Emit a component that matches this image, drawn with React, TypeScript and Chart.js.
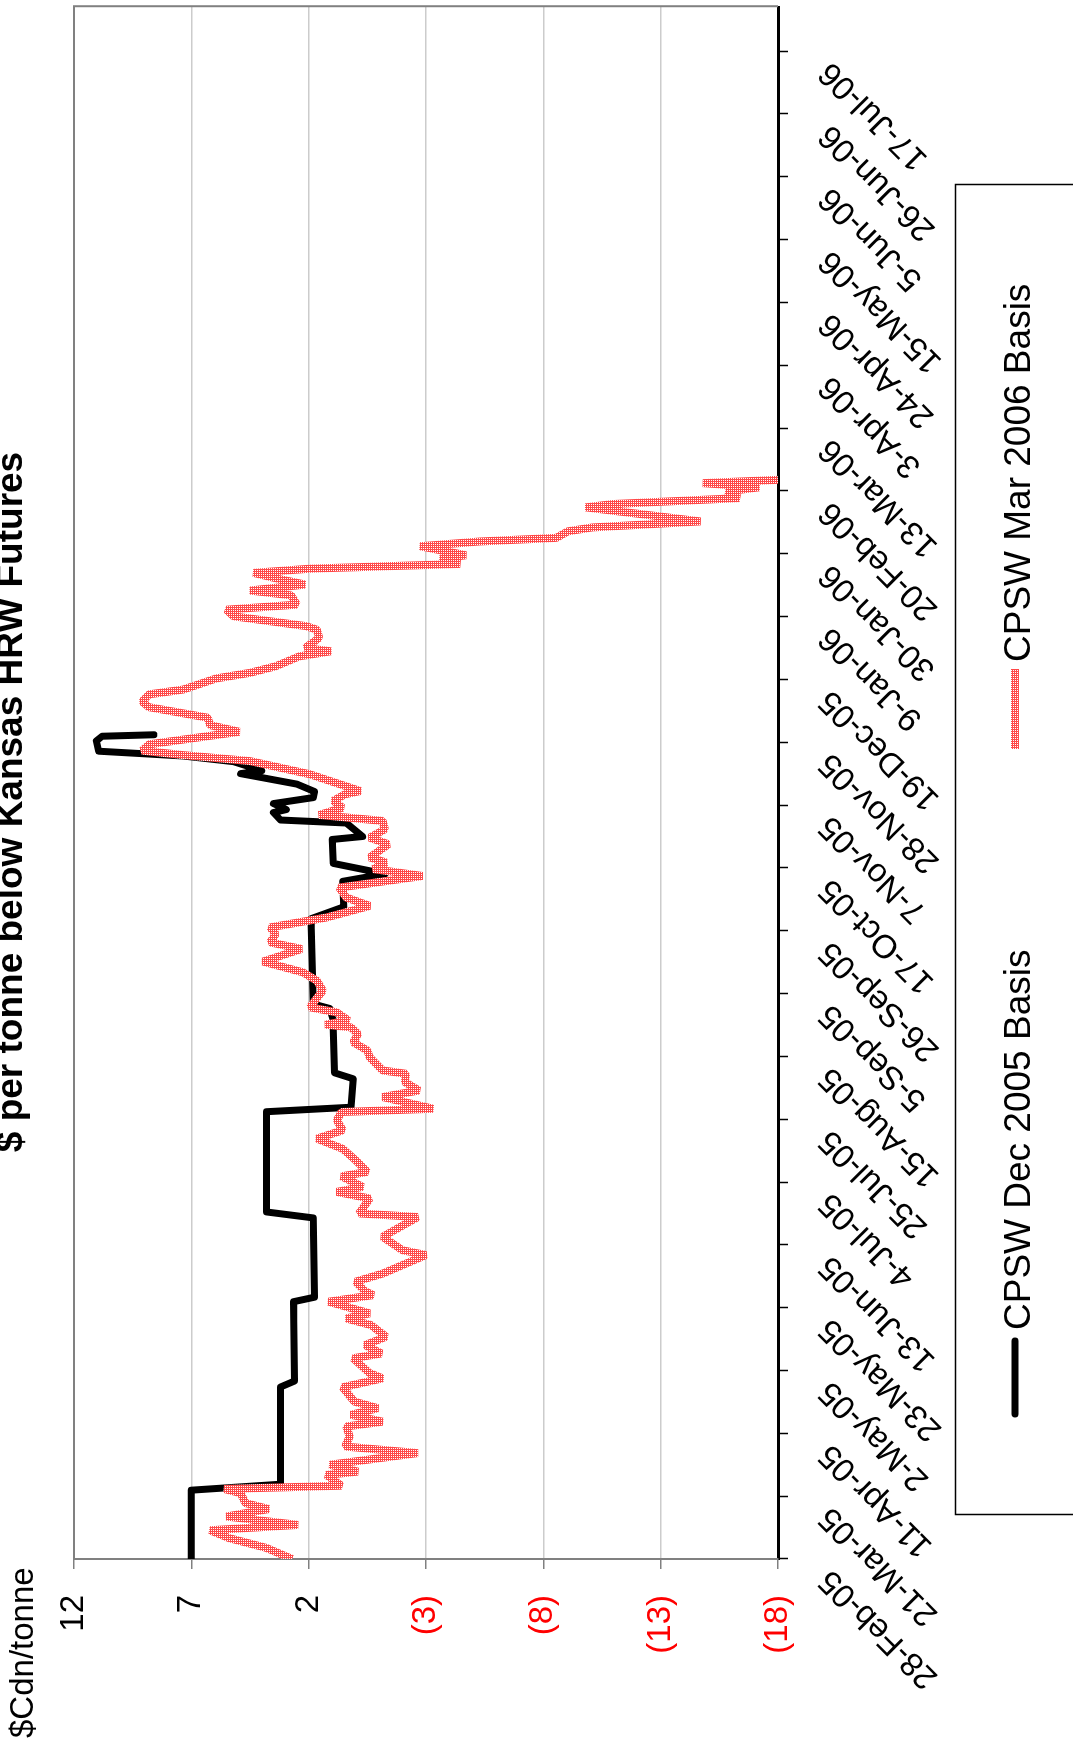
import React, { useEffect, useRef } from "react";
import { Chart, registerables } from "chart.js";

Chart.register(...registerables);

// ---- data (x = days after 28-Feb-05, y = $Cdn/tonne) ----
const START_UTC = Date.UTC(2005, 1, 28);
const MONTHS = ["Jan", "Feb", "Mar", "Apr", "May", "Jun", "Jul", "Aug", "Sep", "Oct", "Nov", "Dec"];

const chartTitle = "$ per tonne below Kansas HRW Futures";
const unitLabel = "$Cdn/tonne";
const seriesLabels = ["CPSW Dec 2005 Basis", "CPSW Mar 2006 Basis"];

const decDays = [0, 23, 25, 57.5, 59.5, 86, 87.5, 114, 116, 149.5, 151, 160.5, 162.5, 177, 180, 184, 185.5, 214, 218, 226.5, 229, 232.5, 240.5, 241.5, 246, 247, 249.5, 250.5, 252.5, 254.5, 256.5, 259, 262.5, 263.5, 266.5, 268.4, 270, 273.4, 275, 275.5];
const decBasis = [7, 7, 3.2, 3.2, 2.6, 2.65, 1.75, 1.8, 3.8, 3.8, 0.2, 0.1, 0.9, 0.95, 0.95, 1.1, 1.8, 1.9, 0.5, 0.55, -1.25, 0.95, 1.0, -0.3, 0.4, 3.2, 3.5, 2.95, 3.5, 1.8, 1.75, 2.5, 4.9, 4.0, 5.2, 7.35, 10.95, 11.05, 10.8, 8.6];

const marDays = [0, 3.7, 7, 9.6, 11.4, 14.2, 16.7, 18.7, 22, 23.4, 24.5, 28.1, 29.2, 31.5, 35.4, 37.6, 40.9, 44.3, 45.9, 48.2, 50.4, 52.6, 57.4, 60.4, 62.1, 67.1, 68.7, 71.5, 74.3, 78.2, 80.4, 82.1, 86, 88.2, 89.5, 92.7, 95.4, 101.6, 103.2, 107.7, 114.3, 115.5, 120.5, 122.7, 124.4, 127.9, 129.4, 133.3, 137.1, 140.5, 143.3, 146.6, 149.4, 150.5, 154.4, 156.6, 159.4, 162.2, 163.3, 167.7, 170, 172.7, 175.5, 177.7, 178.6, 180, 182.7, 184.4, 190, 193.3, 196.1, 199.7, 203.9, 206.1, 208.9, 211.1, 214.4, 218.3, 221.1, 224.4, 228.3, 230.6, 232.8, 234.5, 238.9, 241.1, 243.9, 246.7, 248.7, 251.1, 253.4, 255.6, 256.7, 262.3, 266.7, 268.7, 270.2, 272.3, 276.5, 278.7, 281.2, 284.7, 286.6, 289, 290.6, 294.3, 296.2, 298.4, 301.7, 303.4, 304.5, 307.9, 310.6, 311.8, 315.1, 317.3, 319, 322.1, 323.7, 325.7, 327.7, 329.6, 331, 332.6, 334.3, 335.5, 338.5, 340.1, 341.3, 343.5, 344.8, 346.8, 351.5, 352.6, 354.6, 356.8, 358.2, 359.6, 360.7];
const marBasis = [2.7, 3.8, 5.4, 6.2, 2.45, 5.5, 3.7, 4.7, 4.9, 5.6, 0.6, 1.25, -0.1, 1.1, -2.65, 0.45, 0.25, 0.4, -1.15, 0.2, -0.95, 0.05, 0.55, -1.15, -0.6, 0.1, -1.1, -0.4, -1.3, -0.65, 0.4, -0.6, 1.15, -0.75, -0.4, 0.0, -1.15, -3.0, -2.0, -1.15, -2.65, -0.15, -0.6, 0.8, -0.3, 0.6, -0.5, 0.0, 0.55, 1.65, 0.55, 0.8, 0.6, -3.3, -1.15, -2.7, -2.1, -2.15, -1.15, -0.6, -0.5, 0.1, -0.1, 0.2, 1.3, 0.3, 0.8, 1.95, 1.4, 1.65, 2.25, 3.95, 2.3, 3.65, 3.4, 3.65, 1.25, -0.6, 0.4, 0.7, -2.85, -0.75, -1.3, -0.6, -1.4, -0.6, -1.25, -1.15, 1.55, 0.55, 0.95, 0.45, -0.2, 1.95, 4.5, 7.35, 9.1, 8.8, 4.95, 6.2, 6.3, 8.8, 9.1, 8.8, 7.35, 5.95, 4.5, 3.4, 2.4, 1.05, 2.15, 1.55, 1.65, 2.1, 5.2, 5.5, 2.5, 2.75, 4.5, 2.15, 3.35, 4.35, 1.95, -4.45, -3.6, -4.7, -2.75, -5.3, -8.55, -9.05, -10.1, -14.7, -9.8, -10.95, -16.35, -15.8, -17.2, -14.8, -18.0];

const valueMin = -18;
const valueMax = 12;
const valueStep = 5;
const dayMax = 519;
const dayStep = 21;

const FONT = "'Liberation Sans', Arial, Helvetica, sans-serif";

function fmtDate(d: number): string {
  const dt = new Date(START_UTC + Math.round(d) * 86400000);
  return `${dt.getUTCDate()}-${MONTHS[dt.getUTCMonth()]}-${String(dt.getUTCFullYear()).slice(2)}`;
}
function fmtValue(v: number): string {
  return v < 0 ? `(${-v})` : `${v}`;
}

export default function App() {
  const ref = useRef<HTMLCanvasElement>(null);

  useEffect(() => {
    const canvas = ref.current!;
    const ctx0 = canvas.getContext("2d")!;
    const pc = document.createElement("canvas");
    pc.width = 2;
    pc.height = 2;
    const pctx = pc.getContext("2d")!;
    pctx.fillStyle = "rgb(255,72,72)";
    pctx.fillRect(0, 0, 2, 2);
    pctx.fillStyle = "#ffffff";
    pctx.fillRect(1, 1, 1, 1);
    const pink = ctx0.createPattern(pc, "repeat")!;

    const decor = {
      id: "decor",
      beforeDatasetsDraw(chart: any) {
        const { ctx, chartArea } = chart;
        ctx.save();
        ctx.strokeStyle = "#808080";
        ctx.lineWidth = 2;
        ctx.beginPath();
        ctx.moveTo(chartArea.left, chartArea.top);
        ctx.lineTo(chartArea.right, chartArea.top);
        ctx.lineTo(chartArea.right, chartArea.bottom);
        ctx.stroke();
        ctx.restore();
      },
      afterDraw(chart: any) {
        const { ctx } = chart;
        ctx.save();
        ctx.fillStyle = "#000";
        ctx.textBaseline = "alphabetic";
        ctx.textAlign = "center";
        ctx.font = `bold 37px ${FONT}`;
        ctx.fillText(chartTitle, 950, 22);
        ctx.textAlign = "left";
        ctx.font = `33px ${FONT}`;
        ctx.fillText(unitLabel, 14, 33);

        // legend
        ctx.fillStyle = "#fff";
        ctx.strokeStyle = "#000";
        ctx.lineWidth = 1.5;
        ctx.beginPath();
        ctx.rect(237.5, 955.5, 1330, 200);
        ctx.fill();
        ctx.stroke();
        const items = [
          { x0: 338, x1: 411, tx: 422 },
          { x0: 1003, x1: 1083, tx: 1090 },
        ];
        chart.data.datasets.forEach((ds: any, i: number) => {
          const it = items[i];
          ctx.save();
          ctx.strokeStyle = ds.borderColor;
          ctx.lineWidth = ds.borderWidth;
          ctx.lineCap = i === 0 ? "round" : "butt";
          ctx.beginPath();
          ctx.moveTo(it.x0, 1015);
          ctx.lineTo(it.x1, 1015);
          ctx.stroke();
          ctx.restore();
          ctx.fillStyle = "#000";
          ctx.font = `37px ${FONT}`;
          ctx.textAlign = "left";
          ctx.textBaseline = "alphabetic";
          ctx.fillText(ds.label, it.tx, 1030);
        });
        ctx.restore();
      },
    };

    const chart = new Chart(canvas, {
      type: "line",
      data: {
        datasets: [
          {
            label: seriesLabels[0],
            data: decDays.map((d, i) => ({ x: d, y: decBasis[i] })),
            borderColor: "#000000",
            borderWidth: 7,
            borderJoinStyle: "round",
            borderCapStyle: "round",
            pointRadius: 0,
            tension: 0,
            fill: false,
            order: 1,
          },
          {
            label: seriesLabels[1],
            data: marDays.map((d, i) => ({ x: d, y: marBasis[i] })),
            borderColor: pink as any,
            borderWidth: 8,
            borderJoinStyle: "bevel",
            pointRadius: 0,
            tension: 0,
            fill: false,
            order: 0,
          },
        ],
      },
      options: {
        responsive: false,
        animation: false,
        devicePixelRatio: 1,
        layout: { padding: { left: 0, right: 3.5, top: 74, bottom: 0 } },
        plugins: {
          legend: { display: false },
          title: { display: false },
          tooltip: { enabled: false },
        },
        scales: {
          x: {
            type: "linear",
            min: 0,
            max: dayMax,
            ticks: {
              stepSize: dayStep,
              includeBounds: false,
              autoSkip: false,
              maxRotation: 45,
              minRotation: 45,
              padding: 23,
              labelOffset: -16,
              color: "#000",
              font: { size: 33, family: FONT },
              callback: (v: any) => fmtDate(Number(v)),
            },
            grid: {
              drawOnChartArea: false,
              drawTicks: true,
              tickLength: 10,
              tickColor: "#000",
              tickWidth: 1.5,
            },
            border: { color: "#000", width: 3 },
            afterFit: (s: any) => {
              s.height = 295;
            },
          } as any,
          y: {
            type: "linear",
            min: valueMin,
            max: valueMax,
            ticks: {
              stepSize: valueStep,
              padding: 26,
              font: { size: 33, family: FONT },
              color: (c: any) => (c.tick && c.tick.value < 0 ? "#ff0000" : "#000000"),
              callback: (v: any) => fmtValue(Number(v)),
            },
            grid: {
              color: "#cccccc",
              lineWidth: 1.5,
              tickLength: 10,
              tickColor: "#808080",
              drawTicks: true,
            },
            border: { color: "#808080", width: 2 },
            afterFit: (s: any) => {
              s.width = 193;
            },
          } as any,
        },
      },
      plugins: [decor],
    });
    return () => chart.destroy();
  }, []);

  return (
    <div
      style={{
        position: "absolute",
        left: 0,
        top: 0,
        width: 1073,
        height: 1752,
        overflow: "hidden",
        background: "#fff",
      }}
    >
      <div
        style={{
          position: "absolute",
          left: 0,
          top: 0,
          width: 1752,
          height: 1073,
          transformOrigin: "0 0",
          transform: "translateY(1752px) rotate(-90deg)",
        }}
      >
        <canvas ref={ref} width={1752} height={1073} style={{ display: "block", width: 1752, height: 1073 }} />
      </div>
    </div>
  );
}
